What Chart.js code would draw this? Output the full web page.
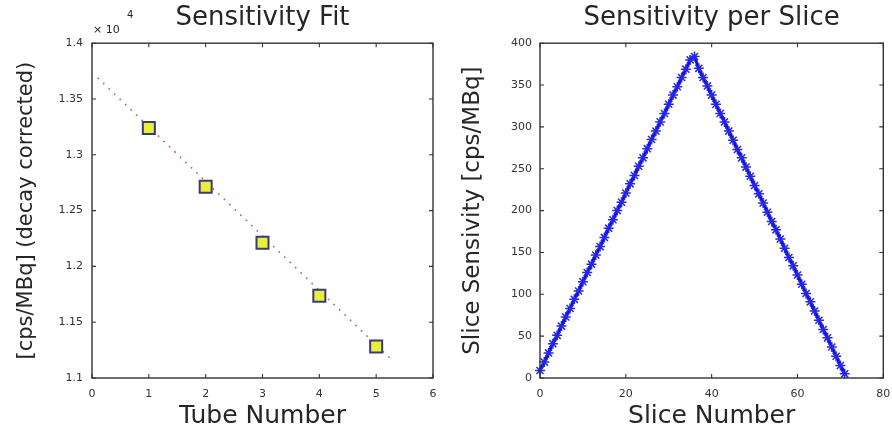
<!DOCTYPE html>
<html>
<head>
<meta charset="utf-8">
<script src="https://cdn.jsdelivr.net/npm/chart.js@4.4.1/dist/chart.umd.min.js"></script>
<style>
  html, body { margin: 0; padding: 0; background: #ffffff; }
  #wrap { position: relative; width: 892px; height: 432px; overflow: hidden; background: #fff; }
  #c1 { position: absolute; left: 0; top: 0; }
  #c2 { position: absolute; left: 446px; top: 0; }
</style>
</head>
<body>
<div id="wrap">
  <canvas id="c1" width="446" height="432"></canvas>
  <canvas id="c2" width="446" height="432"></canvas>
</div>
<script>
// ---------- Left chart data: Sensitivity Fit ----------
const tubeNumbers = [1, 2, 3, 4, 5];
const tubeSensitivity = [13240, 12713, 12212, 11738, 11282];
const fitX = [0.1, 5.3];
const fitY = [13690, 11150];
const tubeXTicks = [0, 1, 2, 3, 4, 5, 6];
const sensYTicks = [11000, 11500, 12000, 12500, 13000, 13500, 14000];

// ---------- Right chart data: Sensitivity per Slice ----------
const sliceNumbers = [
  0, 1, 2, 3, 4, 5, 6, 7, 8, 9, 10, 11, 12, 13, 14, 15, 16, 17,
  18, 19, 20, 21, 22, 23, 24, 25, 26, 27, 28, 29, 30, 31, 32, 33, 34, 35,
  36, 37, 38, 39, 40, 41, 42, 43, 44, 45, 46, 47, 48, 49, 50, 51, 52, 53,
  54, 55, 56, 57, 58, 59, 60, 61, 62, 63, 64, 65, 66, 67, 68, 69, 70, 71
];
const sliceSensitivity = [
  9, 19, 30, 41, 51, 62, 73, 83, 94, 104, 115, 126, 136, 147, 157, 168, 179, 189,
  200, 210, 221, 232, 242, 253, 263, 274, 285, 295, 306, 316, 327, 338, 348, 359, 369, 380,
  384, 370, 359, 349, 338, 327, 316, 306, 295, 284, 273, 263, 252, 241, 230, 220, 209, 198,
  187, 177, 166, 155, 144, 134, 123, 112, 101, 91, 80, 69, 58, 48, 37, 26, 15, 5
];
const sliceXTicks = [0, 20, 40, 60, 80];
const sliceYTicks = [0, 50, 100, 150, 200, 250, 300, 350, 400];

const FONT = "'DejaVu Sans', 'Liberation Sans', sans-serif";
const TXT = '#262626';

// Box frame + inward ticks on all four sides (MATLAB style), optional exponent label
const framePlugin = {
  id: 'frame',
  afterDatasetsDraw(chart, args, opts) {
    const { ctx, chartArea: a, scales } = chart;
    const xs = scales.x, ys = scales.y;
    ctx.save();
    ctx.strokeStyle = '#333333';
    ctx.lineWidth = 1.4;
    ctx.strokeRect(a.left, a.top, a.right - a.left, a.bottom - a.top);
    ctx.lineWidth = 1.1;
    const L = 4;
    ctx.beginPath();
    xs.ticks.forEach(t => {
      const px = xs.getPixelForValue(t.value);
      ctx.moveTo(px, a.bottom); ctx.lineTo(px, a.bottom - L);
      ctx.moveTo(px, a.top); ctx.lineTo(px, a.top + L);
    });
    ys.ticks.forEach(t => {
      const py = ys.getPixelForValue(t.value);
      ctx.moveTo(a.left, py); ctx.lineTo(a.left + L, py);
      ctx.moveTo(a.right, py); ctx.lineTo(a.right - L, py);
    });
    ctx.stroke();
    if (opts && opts.exponent) {
      ctx.fillStyle = TXT;
      ctx.textBaseline = 'alphabetic';
      ctx.textAlign = 'left';
      ctx.font = "11px " + FONT;
      ctx.fillText('\u00d7 10', a.left + 1, a.top - 10);
      ctx.font = "10px " + FONT;
      ctx.fillText(opts.exponent, a.left + 35, a.top - 25);
    }
    ctx.restore();
  }
};

function baseScale(min, max, step, fixedSize, isX, titleText, titleSize, titlePad, tickOffset, cb) {
  const s = {
    type: 'linear',
    min: min, max: max,
    // tick marks are drawn inward by the frame plugin; tickLength only offsets labels
    grid: { display: false, drawTicks: true, tickLength: tickOffset - 1 },
    border: { display: false },
    ticks: {
      stepSize: step,
      padding: 1,
      color: '#333333',
      font: { family: FONT, size: 11 },
      autoSkip: false,
      maxRotation: 0,
      includeBounds: true
    },
    title: {
      display: true,
      text: titleText,
      color: TXT,
      font: { family: FONT, size: titleSize, weight: 'normal' },
      padding: titlePad
    },
    afterFit: (scale) => {
      if (isX) scale.height = fixedSize; else scale.width = fixedSize;
    }
  };
  if (cb) s.ticks.callback = cb;
  return s;
}

Chart.defaults.font.family = FONT;

// ---------- Left chart ----------
new Chart(document.getElementById('c1'), {
  type: 'scatter',
  data: {
    datasets: [
      {
        label: 'Measured',
        data: tubeNumbers.map((t, i) => ({ x: t, y: tubeSensitivity[i] })),
        pointStyle: 'rect',
        pointRadius: 8.5,
        pointHoverRadius: 8.5,
        backgroundColor: '#eaf03a',
        borderColor: '#3a3a78',
        pointBorderWidth: 2,
        showLine: false,
        order: 0,
        clip: false
      },
      {
        label: 'Fit',
        data: fitX.map((x, i) => ({ x: x, y: fitY[i] })),
        showLine: true,
        borderColor: '#c45a5a',
        borderWidth: 1.6,
        borderDash: [1.6, 6],
        pointRadius: 0,
        fill: false,
        order: 1
      }
    ]
  },
  options: {
    responsive: false,
    animation: false,
    devicePixelRatio: 1,
    layout: { padding: { left: 0, right: 13, top: 0, bottom: 0 } },
    plugins: {
      legend: { display: false },
      tooltip: { enabled: false },
      title: {
        display: true,
        text: 'Sensitivity Fit',
        fullSize: false,
        color: TXT,
        font: { family: FONT, size: 26, weight: 'normal' },
        padding: { top: 3, bottom: 9 }
      },
      frame: { exponent: '4' }
    },
    scales: {
      x: baseScale(0, 6, 1, 54, true, 'Tube Number', 25, { top: 0, bottom: 1 }, 10),
      y: baseScale(11000, 14000, 500, 92, false, '[cps/MBq] (decay corrected)', 21, { top: 14, bottom: 0 }, 9,
          v => Number((v / 10000).toFixed(2)).toString())
    }
  },
  plugins: [framePlugin]
});

// ---------- Right chart ----------
new Chart(document.getElementById('c2'), {
  type: 'scatter',
  data: {
    datasets: [
      {
        label: 'Slice Sensitivity',
        data: sliceNumbers.map((s, i) => ({ x: s, y: sliceSensitivity[i] })),
        showLine: true,
        borderColor: '#1010d0',
        borderWidth: 3,
        pointStyle: 'star',
        pointRadius: 5,
        pointHoverRadius: 5,
        pointBorderColor: '#2626e6',
        pointBorderWidth: 1.5,
        backgroundColor: '#2626e6',
        fill: false,
        clip: false
      }
    ]
  },
  options: {
    responsive: false,
    animation: false,
    devicePixelRatio: 1,
    layout: { padding: { left: 0, right: 8.7, top: 0, bottom: 0 } },
    plugins: {
      legend: { display: false },
      tooltip: { enabled: false },
      title: {
        display: true,
        text: 'Sensitivity per Slice',
        fullSize: false,
        color: TXT,
        font: { family: FONT, size: 26, weight: 'normal' },
        padding: { top: 3, bottom: 9 }
      },
      frame: {}
    },
    scales: {
      x: baseScale(0, 80, 20, 54, true, 'Slice Number', 25, { top: 0, bottom: 1 }, 10),
      y: baseScale(0, 400, 50, 94, false, 'Slice Sensivity [cps/MBq]', 23, { top: 13, bottom: 0 }, 8)
    }
  },
  plugins: [framePlugin]
});
</script>
</body>
</html>
